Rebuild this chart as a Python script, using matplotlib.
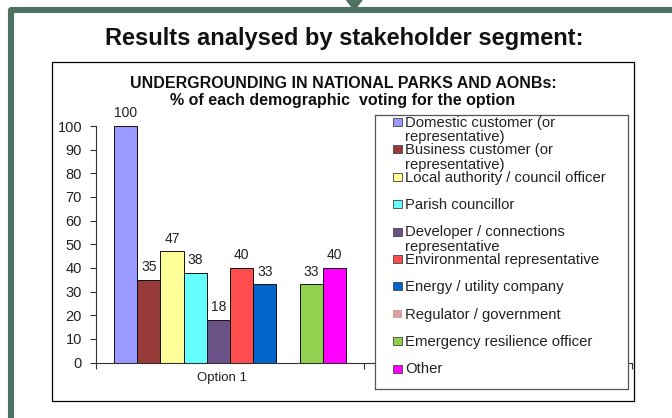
import numpy as np
import matplotlib.pyplot as plt
from matplotlib.patches import Rectangle, Polygon

plt.rcParams['font.family'] = ['Liberation Sans', 'DejaVu Sans']

# stakeholder segments (legend order) and % voting for the option
segments = ["Domestic customer (or\nrepresentative)",
            "Business customer (or\nrepresentative)",
            "Local authority / council officer",
            "Parish councillor",
            "Developer / connections\nrepresentative",
            "Environmental representative",
            "Energy / utility company",
            "Regulator / government",
            "Emergency resilience officer",
            "Other"]
values = [100, 35, 47, 38, 18, 40, 33, np.nan, 33, 40]
option_label = "Option 1"
yticks = list(range(0, 101, 10))

colors = ["#9999FF", "#993A3A", "#FFFF99", "#66FFFF", "#6A5287",
          "#FF4C4C", "#0066CC", "#D9A0A0", "#92D050", "#FF00FF"]
frame_col = "#4D7262"

fig = plt.figure(figsize=(6.72, 4.18), dpi=100)

# background in pixel coords: frame, titles, chart box
bg = fig.add_axes([0, 0, 1, 1])
bg.set_xlim(0, 672)
bg.set_ylim(418, 0)
bg.axis('off')
bg.plot([11, 11, 672], [418, 10, 10], color=frame_col, lw=4.4,
        solid_joinstyle='round', solid_capstyle='butt')
bg.add_patch(Polygon([[346.5, 0], [362, 0], [354.3, 10]], closed=True,
                     color=frame_col))
bg.text(344, 38, "Results analysed by stakeholder segment:", ha='center',
        va='center', fontsize=17, fontweight='bold', color='#111111')
bg.add_patch(Rectangle((52, 62), 582, 339, fc='white', ec='black', lw=0.9))
bg.text(343, 84, "UNDERGROUNDING IN NATIONAL PARKS AND AONBs:",
        ha='center', va='center', fontsize=11.5, fontweight='bold',
        color='#111111')
bg.text(343, 100, "% of each demographic  voting for the option",
        ha='center', va='center', fontsize=11.5, fontweight='bold',
        color='#111111')

# bar chart
ax = fig.add_axes([96 / 672, 1 - 362.5 / 418, 536 / 672, 236.5 / 418])
ax.patch.set_alpha(0)
n = len(values)
gap = 1.55
w = 1 / (n + gap)
xs = gap * w / 2 + w * (np.arange(n) + 0.5)
bars = ax.bar(xs, values, width=w, color=colors, edgecolor='#111111',
              linewidth=0.7)
labels = ['' if np.isnan(v) else f"{v:.0f}" for v in values]
ax.bar_label(bars, labels=labels, padding=4, fontsize=10, color='#222222')

ax.set_xlim(0, 2)
ax.set_ylim(0, 100)
ax.set_yticks(yticks)
ax.set_xticks([0, 1, 2])
ax.set_xticklabels([])
ax.set_xticks([0.47], labels=[option_label], minor=True)
ax.tick_params(axis='x', which='major', direction='out', length=4.5,
               width=0.8, color='#333333')
ax.tick_params(axis='x', which='minor', length=0, pad=7, labelsize=9.5,
               labelcolor='#222222')
ax.tick_params(axis='y', direction='out', length=4, width=0.8,
               color='#333333', pad=6, labelsize=10.5, labelcolor='#222222')
for s in ['top', 'right']:
    ax.spines[s].set_visible(False)
for s in ['left', 'bottom']:
    ax.spines[s].set_color('#333333')
    ax.spines[s].set_linewidth(0.8)

# legend box drawn in pixel coords
lg = fig.add_axes([375 / 672, 1 - 389 / 418, 253 / 672, 274 / 418])
lg.set_xlim(375, 628)
lg.set_ylim(389, 115)
lg.set_xticks([])
lg.set_yticks([])
for s in lg.spines.values():
    s.set_color('#555555')
    s.set_linewidth(0.9)
edges = ['#444444'] * n
edges[7] = 'none'
for i, (lab, c) in enumerate(zip(segments, colors)):
    y = 122 + 27.4 * i
    lg.add_patch(Rectangle((393, y - 4), 8.5, 8, fc=c, ec=edges[i], lw=0.6))
    for k, line in enumerate(lab.split('\n')):
        lg.text(405, y + 4.8 + 14.5 * k, line, va='baseline', ha='left',
                fontsize=10.7, color='#222222')

fig.savefig('out.png', dpi=100)
